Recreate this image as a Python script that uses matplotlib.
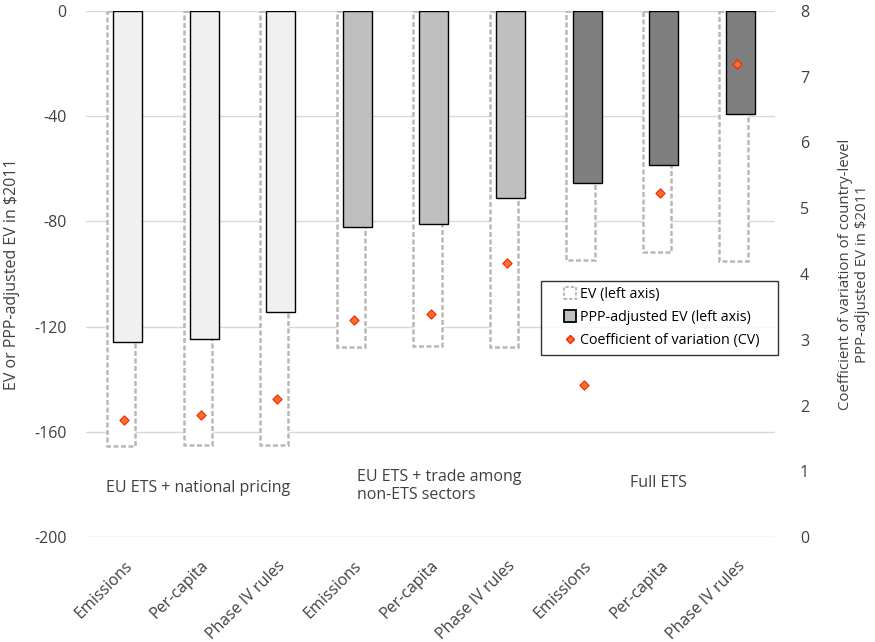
import matplotlib.pyplot as plt
import numpy as np
from matplotlib.patches import Patch, Rectangle
from matplotlib.lines import Line2D
from matplotlib.legend_handler import HandlerPatch, HandlerLine2D

plt.rcParams['font.family'] = ['Open Sans', 'DejaVu Sans']
plt.rcParams['axes.unicode_minus'] = False

labels = ['Emissions', 'Per-capita', 'Phase IV rules'] * 3
groups = ['EU ETS + national pricing', 'EU ETS + trade among\nnon-ETS sectors', 'Full ETS']
ev = [-165.4, -165.2, -165.0, -127.8, -127.5, -127.6, -94.7, -91.6, -95.0]
ppp_ev = [-125.9, -124.7, -114.4, -82.1, -81.0, -71.1, -65.4, -58.6, -39.2]
cv = [1.78, 1.86, 2.10, 3.30, 3.39, 4.17, 2.31, 5.23, 7.19]
group_fill = ['#f0f0f0', '#bfbfbf', '#7f7f7f']

TXT = '#404040'

fig = plt.figure(figsize=(8.75, 6.42), dpi=100)
ax = fig.add_axes([86/875, 1-537/642, 689/875, 526/642])
ax2 = ax.twinx()

x = np.arange(len(labels))
fills = [group_fill[i // 3] for i in range(len(labels))]

ax.bar(x - 0.04, ev, width=0.37, facecolor='white', edgecolor='#bab6b6',
       linewidth=1.8, linestyle=(0, (2, 1)), zorder=2)
ax.bar(x + 0.045, ppp_ev, width=0.38, color=fills, edgecolor='black',
       linewidth=1.0, zorder=3)

ax2.scatter(x, cv, marker='D', s=22, facecolor='#f4742c', edgecolor='#ff2000',
            linewidth=0.8, zorder=5)

ax.set_ylim(-200, 0)
ax.set_yticks(np.arange(-200, 1, 40))
ax.set_xlim(-0.5, 8.5)
ax.set_xticks(x)
ax.set_xticklabels(labels, rotation=45, ha='right', rotation_mode='anchor', fontsize=11.5, color=TXT)
ax.grid(axis='y', color='#d9d9d9', linewidth=1.0, zorder=0)
ax.set_axisbelow(True)
ax.tick_params(axis='both', length=0, labelsize=11.5, labelcolor=TXT)
ax.tick_params(axis='x', pad=15)
ax.tick_params(axis='y', pad=14)
for s in ax.spines.values():
    s.set_visible(False)

ax2.set_ylim(0, 8)
ax2.set_yticks(range(0, 9))
ax2.tick_params(axis='y', length=0, labelsize=11.5, labelcolor=TXT, pad=18)
for s in ax2.spines.values():
    s.set_visible(False)

ax.set_ylabel('EV or PPP-adjusted EV in $2011', fontsize=11.5, color=TXT)
ax.yaxis.set_label_coords((20-86)/689, 0.5)
ax2.set_ylabel('Coefficient of variation of country-level\nPPP-adjusted EV in $2011',
               fontsize=10.8, color=TXT, linespacing=1.2)
ax2.yaxis.set_label_coords((838-86)/689, 0.5)

group_pos = [(-0.24, -181.5), (3.04, -180.5), (6.61, -179.5)]
for g, (gx, gy) in zip(groups, group_pos):
    ax.text(gx, gy, g, fontsize=11.5, color=TXT, ha='left', va='center', linespacing=1.15)


# legend keys: small square / marker at the right end of the key area
def small_box(legend, orig_handle, xdescent, ydescent, width, height, fontsize):
    size = height * 1.15
    return Rectangle((-xdescent + width - size, -ydescent + (height - size) / 2), size, size)


class RightMarker(HandlerLine2D):
    def get_xdata(self, legend, xdescent, ydescent, width, height, fontsize):
        xd = np.array([width - xdescent - height * 0.55])
        return xd, xd


h_ev = Patch(facecolor='white', edgecolor='#bab6b6', linestyle=(0, (1.5, 1)), linewidth=1.5)
h_ppp = Patch(facecolor='#bfbfbf', edgecolor='black', linewidth=1.3)
h_cv = Line2D([], [], marker='D', linestyle='none', markersize=4.5,
              markerfacecolor='#f4742c', markeredgecolor='#ff2000')
leg = ax.legend([h_ev, h_ppp, h_cv],
                ['EV (left axis)', 'PPP-adjusted EV (left axis)', 'Coefficient of variation (CV)'],
                loc='upper left', mode='expand',
                bbox_to_anchor=((541-86)/689, (537-354)/526, 237/689, 73/526),
                fontsize=10.3, frameon=True, fancybox=False, edgecolor='black',
                handlelength=2.0, handleheight=0.75, handletextpad=0.3, borderpad=0.45,
                labelspacing=0.55, borderaxespad=0,
                handler_map={Patch: HandlerPatch(patch_func=small_box), Line2D: RightMarker()})
leg.get_frame().set_linewidth(1.0)
leg.set_zorder(10)

fig.savefig('out.png', dpi=100)
